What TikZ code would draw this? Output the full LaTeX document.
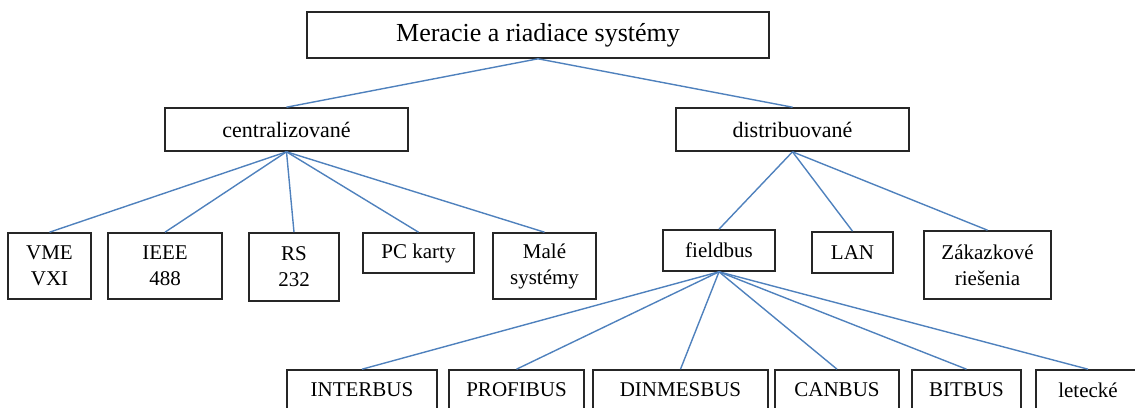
\documentclass[tikz,border=0pt]{standalone}
\usepackage{fontspec}
\setmainfont{Liberation Serif}
\definecolor{linkblue}{RGB}{79,129,189}
\begin{document}
\begin{tikzpicture}[x=1pt,y=-1pt,
  box/.style={draw=black!85,line width=1.6pt,fill=white,inner sep=0pt,align=center,
              font=\fontsize{21}{26}\selectfont},
  conn/.style={draw=linkblue,line width=1.4pt}]
\useasboundingbox (0,0) rectangle (1135,407);

% root
\node[box,minimum width=462,minimum height=46,font=\fontsize{26}{30}\selectfont]
  (root) at (538,35) {Meracie a riadiace\ systémy};

% first level
\node[box,minimum width=243,minimum height=43,font=\fontsize{22}{26}\selectfont]
  (cen) at (286.5,129.5) {centralizované};
\node[box,minimum width=233,minimum height=43,font=\fontsize{22}{26}\selectfont]
  (dis) at (792.5,129.5) {distribuované};

% centralized systems
\node[box,minimum width=83,minimum height=66]  (vme)  at (49.5,266) {VME\\VXI};
\node[box,minimum width=114,minimum height=66] (ieee) at (165,266)  {IEEE\\488};
\node[box,minimum width=90,minimum height=68]  (rs)   at (294,267)  {RS\\232};
\node[box,minimum width=111,minimum height=40] (pc)   at (418.5,253) {PC karty};
\node[box,minimum width=103,minimum height=66] (male) at (544.5,266) {Malé\\systémy};

% distributed systems
\node[box,minimum width=112,minimum height=41] (fb)  at (719,250.5) {fieldbus};
\node[box,minimum width=81,minimum height=41]  (lan) at (852.5,252.5) {LAN};
\node[box,minimum width=127,minimum height=68] (zak) at (987.5,265) {Zákazkové\\riešenia};

% fieldbus types
\node[box,minimum width=150,minimum height=40] (inter) at (362,390)    {INTERBUS};
\node[box,minimum width=135,minimum height=40] (profi) at (516.5,390)  {PROFIBUS};
\node[box,minimum width=175,minimum height=40] (dinm)  at (680.5,390)  {DINMESBUS};
\node[box,minimum width=124,minimum height=40] (can)   at (837,390)    {CANBUS};
\node[box,minimum width=109,minimum height=40] (bit)   at (966.5,390)  {BITBUS};
\node[box,minimum width=104,minimum height=40] (let)   at (1088,390)   {letecké};

% connectors
\foreach \c in {cen,dis} \draw[conn] (root.south) -- (\c.north);
\foreach \c in {vme,ieee,rs,pc,male} \draw[conn] (cen.south) -- (\c.north);
\foreach \c in {fb,lan,zak} \draw[conn] (dis.south) -- (\c.north);
\foreach \c in {inter,profi,dinm,can,bit,let} \draw[conn] (fb.south) -- (\c.north);
\end{tikzpicture}
\end{document}
